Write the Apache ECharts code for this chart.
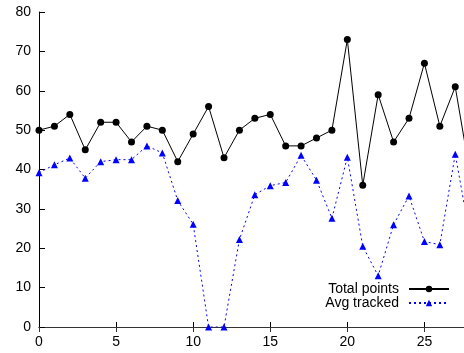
<!DOCTYPE html>
<html>
<head>
<meta charset="utf-8">
<script src="https://cdn.jsdelivr.net/npm/echarts@6/dist/echarts.min.js"></script>
<style>html,body{margin:0;padding:0;background:#fff;overflow:hidden;width:464px;height:353px}#c{width:502px;height:353px}</style>
</head>
<body>
<div id="c"></div>
<script>
var totalPoints = [50,51,54,45,52,52,47,51,50,42,49,56,43,50,53,54,46,46,48,50,73,36,59,47,53,67,51,61,38];
var avgTracked  = [39.2,41.2,42.9,37.8,42.0,42.5,42.5,46.0,44.2,32.1,26.1,0,0,22.2,33.6,35.9,36.7,43.6,37.3,27.6,43.1,20.5,13.0,26.0,33.3,21.7,20.9,43.9,22];
var xTicks = [0,5,10,15,20,25,30];
var yTicks = [0,10,20,30,40,50,60,70,80];
var seriesNames = ['Total points','Avg tracked'];

function pairs(arr){ return arr.map(function(v,i){ return [i, v]; }); }

var font = 'Liberation Sans, Arial, Helvetica, sans-serif';
var chart = echarts.init(document.getElementById('c'), null, {renderer:'canvas', width:502, height:353});
chart.setOption({
  animation:false,
  backgroundColor:'#fff',
  textStyle:{fontFamily:font},
  grid:{left:39, right:0.5, top:12, bottom:26, containLabel:false, outerBoundsMode:'none'},
  legend:{
    orient:'vertical', right:52, top:282, align:'right', padding:0,
    itemWidth:40, itemHeight:8, itemGap:0,
    textStyle:{fontSize:14, lineHeight:14, color:'#000', fontFamily:font, padding:[0,5,0,0]},
    data:seriesNames
  },
  xAxis:[{
    type:'value', min:xTicks[0], max:xTicks[xTicks.length-1], interval:5,
    axisLine:{show:true, onZero:false, lineStyle:{color:'#000', width:1}},
    axisTick:{show:true, inside:true, length:5, lineStyle:{color:'#000'}},
    axisLabel:{fontSize:14, color:'#000', margin:8, fontFamily:font},
    splitLine:{show:false}
  },{
    type:'value', position:'top', min:xTicks[0], max:xTicks[xTicks.length-1], interval:5,
    axisLine:{show:true, lineStyle:{color:'#333', width:1}},
    axisTick:{show:true, inside:true, length:5, lineStyle:{color:'#333'}},
    axisLabel:{show:false}, splitLine:{show:false}
  }],
  yAxis:{
    type:'value', min:yTicks[0], max:yTicks[yTicks.length-1], interval:10,
    axisLine:{show:true, lineStyle:{color:'#000', width:1}},
    axisTick:{show:true, inside:true, length:6, lineStyle:{color:'#000'}},
    axisLabel:{fontSize:14, color:'#000', margin:8, fontFamily:font},
    splitLine:{show:false}
  },
  series:[{
    name:seriesNames[0], type:'line', data:pairs(totalPoints),
    symbol:'circle', symbolSize:7,
    itemStyle:{color:'#000'},
    lineStyle:{color:'#000', width:1},
    clip:true
  },{
    name:seriesNames[1], type:'line', data:pairs(avgTracked),
    symbol:'triangle', symbolSize:7,
    itemStyle:{color:'#0000ff'},
    lineStyle:{color:'#0000ff', width:1, type:[2,3]},
    clip:true
  }]
});
</script>
</body>
</html>
